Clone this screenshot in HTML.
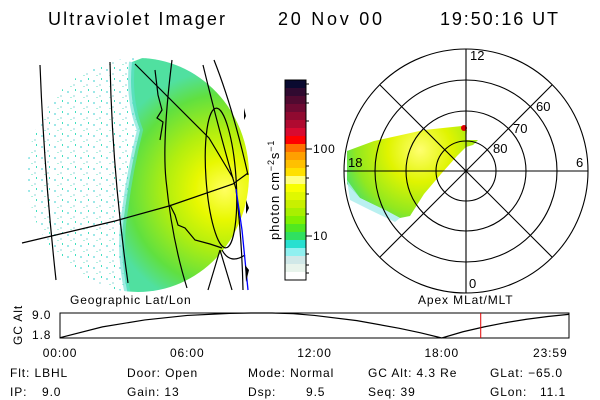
<!DOCTYPE html>
<html><head><meta charset="utf-8">
<style>
html,body{margin:0;padding:0;background:#fff;}
svg{display:block;font-family:"Liberation Sans",sans-serif;}
.s{letter-spacing:0.9px;}
</style></head>
<body>
<svg id="chart" width="600" height="400" viewBox="0 0 600 400">
<defs>
  <clipPath id="diskClip"><ellipse cx="138" cy="175" rx="111" ry="117"/></clipPath>
  <radialGradient id="glow" cx="225" cy="190" r="120" gradientUnits="userSpaceOnUse">
    <stop offset="0" stop-color="#ffff60"/>
    <stop offset="0.25" stop-color="#e8f800"/>
    <stop offset="0.5" stop-color="#b0ee10"/>
    <stop offset="0.8" stop-color="#60e040"/>
    <stop offset="1" stop-color="#50e0a0"/>
  </radialGradient>
  <radialGradient id="pglow" cx="420" cy="150" r="80" gradientUnits="userSpaceOnUse">
    <stop offset="0" stop-color="#ffff70"/>
    <stop offset="0.4" stop-color="#e0f400"/>
    <stop offset="0.8" stop-color="#90e820"/>
    <stop offset="1" stop-color="#50e060"/>
  </radialGradient>
  <pattern id="speck" width="13" height="11" patternUnits="userSpaceOnUse">
    <rect x="2" y="3" width="2" height="2" fill="#9ee8e8"/>
    <rect x="8" y="7" width="2" height="2" fill="#c8ecec"/>
    <rect x="10" y="1" width="1" height="2" fill="#40e0c0"/>
    <rect x="5" y="9" width="2" height="1" fill="#b0f0e0"/>
  </pattern>
</defs>

<text x="48" y="25" font-size="18" textLength="177" lengthAdjust="spacing">Ultraviolet Imager</text>
<text x="278" y="25" font-size="18" textLength="104" lengthAdjust="spacing">20 Nov 00</text>
<text x="440" y="25" font-size="18" textLength="118" lengthAdjust="spacing">19:50:16 UT</text>

<g clip-path="url(#diskClip)">
  <rect x="20" y="50" width="130" height="250" fill="url(#speck)"/>
  <path d="M132,62 Q128,100 140,130 Q130,170 125,210 Q118,250 128,295 L260,295 L260,55 L150,55 Z" fill="url(#glow)"/>
  <path d="M132,62 Q128,100 140,130 Q130,170 125,210 Q118,250 128,295" fill="none" stroke="#60e0d0" stroke-width="6" opacity="0.6"/>
</g>
<g fill="none" stroke="#000" stroke-width="1.2">
  <path d="M40,65 Q44,170 56,280"/>
  <path d="M110,62 Q112,170 128,283"/>
  <path d="M172,60 Q162,140 166,180 Q172,240 187,288"/>
  <path d="M203,65 Q220,135 236,189 Q242,240 243,290"/>
  <path d="M214,60 Q233,108 248,175"/>
  <path d="M22,243 L115,221 L169,206 L233,184 L248,173"/>
  <path d="M135,64 L209,138 L233,178"/>
  <ellipse cx="221" cy="178" rx="15" ry="70" transform="rotate(-4 221 178)"/>
  <path d="M220,250 L208,290 M220,250 L232,290"/>
  <path d="M155,70 L158,95 L162,110 L157,118 L163,122 L160,140"/>
  <path d="M170,205 L175,215 L178,225 L185,228 L195,240 L210,244 L222,248"/>
  <path d="M222,250 Q230,265 245,255"/>
</g>
<path d="M236,189 L242,230 L248,290" stroke="#0000ff" stroke-width="1.3" fill="none"/>
<path d="M246,200 L249,208 L246,214 Z M245,265 L249,270 L246,282 Z M244,108 L246,116 L244,120 Z" fill="#000"/>

<g id="cbar"></g>
<text transform="translate(279,240) rotate(-90)" font-size="13" class="s">photon cm<tspan dy="-5" font-size="9">−2</tspan><tspan dy="5">s</tspan><tspan dy="-5" font-size="9">−1</tspan></text>
<text x="313" y="153" font-size="12" class="s">100</text>
<text x="313" y="240" font-size="12" class="s">10</text>

<g>
  <path d="M347,151 L374,141 L424,130 L462,126 L467,130 L466,140 L478,140 L473,145 L466,147 L457,156 L441,174 L424,194 L410,216 L400,218 L387,211 L360,198 L347,184 Z" fill="url(#pglow)"/>
  <path d="M347,180 L360,198 L387,211 L400,218 L395,222 L370,210 L350,200 Z" fill="#a8ecec" opacity="0.8"/>
  <circle cx="464" cy="128" r="3" fill="#e00000"/>
  <g fill="none" stroke="#000" stroke-width="1.1">
    <circle cx="466" cy="171" r="30"/>
    <circle cx="466" cy="171" r="60"/>
    <circle cx="466" cy="171" r="91"/>
    <circle cx="466" cy="171" r="122"/>
    <line x1="466" y1="49" x2="466" y2="293"/>
    <line x1="344" y1="171" x2="588" y2="171"/>
    <line x1="380" y1="85" x2="552" y2="257"/>
    <line x1="380" y1="257" x2="552" y2="85"/>
  </g>
  <text x="470" y="60" font-size="13">12</text>
  <text x="348" y="167" font-size="13">18</text>
  <text x="576" y="167" font-size="13">6</text>
  <text x="469" y="288" font-size="13">0</text>
  <text x="536" y="111" font-size="13">60</text>
  <text x="513" y="133" font-size="13">70</text>
  <text x="493" y="153" font-size="13">80</text>
</g>

<text x="70" y="304" font-size="12" class="s">Geographic Lat/Lon</text>
<text x="418" y="304" font-size="12" class="s">Apex MLat/MLT</text>

<text transform="translate(22,345) rotate(-90)" font-size="12" class="s">GC Alt</text>
<text x="32" y="319" font-size="12" class="s">9.0</text>
<text x="32" y="339" font-size="12" class="s">1.8</text>
<rect x="60" y="313" width="509" height="25" fill="none" stroke="#000" stroke-width="1"/>
<g id="alt"></g>
<g id="xt"></g>

<g font-size="12" class="s">
  <text x="10" y="377">Flt: LBHL</text>
  <text x="10" y="396">IP:</text>
  <text x="42" y="396">9.0</text>
  <text x="127" y="377">Door: Open</text>
  <text x="127" y="396">Gain: 13</text>
  <text x="248" y="377">Mode: Normal</text>
  <text x="248" y="396">Dsp:</text>
  <text x="306" y="396">9.5</text>
  <text x="368" y="377">GC Alt: 4.3 Re</text>
  <text x="368" y="396">Seq: 39</text>
  <text x="490" y="377">GLat: −65.0</text>
  <text x="490" y="396">GLon:</text>
  <text x="540" y="396">11.1</text>
</g>
</svg>
<script>
const NS="http://www.w3.org/2000/svg";
const cbarColors=["#0a0a30","#300a30","#500a30","#6e0a32","#900a30","#b00a30","#d80a30","#ff0000","#ff7000","#ffa000","#ffc000","#ffe000","#ffff80","#f8ff00","#e0f800","#c8f000","#a8f000","#80f000","#50e820","#30e060","#28e0d0","#90f0f0","#d0e8e8","#e8f4ec","#ffffff"];
const altHours=[0,2,4,6,8,9,10,11,12,14,16,17,18,19,20,21,22,23,23.98];
const altValues=[1.9,5.0,7.0,8.3,8.9,9.0,9.0,8.8,8.3,6.8,4.6,3.3,1.8,3.6,5.0,6.2,7.2,8.0,8.6];
const timeLabels=["00:00","06:00","12:00","18:00","23:59"];
const timeHours=[0,6,12,18,23.98];
const currentHour=19+50/60+16/3600;

const cb=document.getElementById('cbar');
cbarColors.forEach((c,i)=>{
  const r=document.createElementNS(NS,'rect');
  
  
  r.setAttribute('x',285);r.setAttribute('y',80+i*8);r.setAttribute('width',21);r.setAttribute('height',8.2);r.setAttribute('fill',c);
  cb.appendChild(r);
});
const fr=document.createElementNS(NS,'rect');


fr.setAttribute('x',285);fr.setAttribute('y',80);fr.setAttribute('width',21);fr.setAttribute('height',200);fr.setAttribute('fill','none');fr.setAttribute('stroke','#000');
cb.appendChild(fr);
[84,94,103,121,149,166,178,194,214,236,254,265,273].forEach(y=>{
  const l=document.createElementNS(NS,'line');
  
  
  l.setAttribute('x1',306);l.setAttribute('x2',(y===149||y===236)?312:309);l.setAttribute('y1',y);l.setAttribute('y2',y);l.setAttribute('stroke','#000');
  cb.appendChild(l);
});

const X=h=>60+h/24*509;
const Y=v=>338-(v-1.8)/(9.0-1.8)*25;
const alt=document.getElementById('alt');
const p=document.createElementNS(NS,'polyline');


p.setAttribute('points',altHours.map((h,i)=>X(h)+','+Y(altValues[i])).join(' '));
p.setAttribute('fill','none');p.setAttribute('stroke','#000');p.setAttribute('stroke-width','1.2');
alt.appendChild(p);
const rl=document.createElementNS(NS,'line');


rl.setAttribute('x1',X(currentHour));rl.setAttribute('x2',X(currentHour));rl.setAttribute('y1',313);rl.setAttribute('y2',338);rl.setAttribute('stroke','#e00000');
alt.appendChild(rl);
const xt=document.getElementById('xt');
timeLabels.forEach((t,i)=>{
  const tx=document.createElementNS(NS,'text');
  
  
  tx.setAttribute('x',i===4?X(timeHours[i])-1:X(timeHours[i]));tx.setAttribute('y',357);tx.setAttribute('font-size','12');
  tx.setAttribute('class','s');
  tx.setAttribute('text-anchor',i===4?'end':'middle');
  tx.textContent=t;xt.appendChild(tx);
});
</script>
</body></html>
